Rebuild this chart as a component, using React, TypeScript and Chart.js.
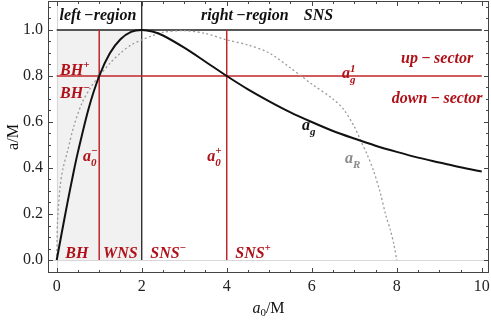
import React, { useEffect, useRef } from "react";
import { Chart, registerables } from "chart.js";
Chart.register(...registerables);

// a_g curve
const agX = [0, 0.1, 0.25, 0.4, 0.5, 0.75, 1, 1.25, 1.5, 1.75, 2, 2.25, 2.5, 3, 3.5, 4, 4.5, 5, 5.5, 6, 6.5, 7, 7.5, 8, 8.5, 9, 9.5, 10];
const agY = [0, 0.1, 0.246, 0.385, 0.47, 0.658, 0.8, 0.899, 0.96, 0.992, 1.0, 0.993, 0.976, 0.923, 0.862, 0.8, 0.742, 0.69, 0.642, 0.6, 0.561, 0.528, 0.497, 0.47, 0.445, 0.424, 0.403, 0.385];
// a_R curve
const aRX = [0, 0.02, 0.08, 0.15, 0.25, 0.4, 0.6, 0.8, 1.0, 1.25, 1.5, 1.75, 2.0, 2.25, 2.5, 3.0, 3.5, 4.0, 4.5, 5.0, 5.5, 5.75, 6.0, 6.5, 6.75, 7.0, 7.15, 7.3, 7.45, 7.6, 7.75, 7.85, 7.93, 8.0];
const aRY = [0, 0.17, 0.32, 0.4, 0.47, 0.58, 0.685, 0.75, 0.8, 0.855, 0.9, 0.935, 0.957, 0.975, 0.99, 0.997, 0.985, 0.957, 0.935, 0.9, 0.835, 0.8, 0.765, 0.7, 0.655, 0.58, 0.52, 0.46, 0.39, 0.3, 0.19, 0.13, 0.07, 0];

const xTickValues = [0, 2, 4, 6, 8, 10];
const yTickValues = [0, 0.2, 0.4, 0.6, 0.8, 1.0];
const xMinorStep = 0.5;
const yMinorStep = 0.05;

const X_MIN = -0.205, X_MAX = 10.17, Y_MIN = -0.0565, Y_MAX = 1.126;

// reference lines
const leftRegionEdge = 2;
const a0Minus = 1;
const a0Plus = 4;
const agOne = 0.8;
const aMax = 1.0;

const RED = "#c1272d";
const RED_TEXT = "#b01018";
const FONT = '"Liberation Serif", "Times New Roman", serif';

type Seg = { t: string; sup?: string; sub?: string };
type Label = { segs: Seg[]; x: number; y: number; align: "left" | "center" | "right"; color: string };

const labels: Label[] = [
  { segs: [{ t: "left\u2009−region" }], x: 0.97, y: 1.043, align: "center", color: "#111" },
  { segs: [{ t: "right\u2009−region\u2009   SNS" }], x: 4.95, y: 1.043, align: "center", color: "#111" },
  { segs: [{ t: "BH", sup: "+" }], x: 0.08, y: 0.806, align: "left", color: RED_TEXT },
  { segs: [{ t: "BH", sup: "−" }], x: 0.08, y: 0.704, align: "left", color: RED_TEXT },
  { segs: [{ t: "a", sup: "−", sub: "0" }], x: 0.62, y: 0.43, align: "left", color: RED_TEXT },
  { segs: [{ t: "a", sup: "+", sub: "0" }], x: 3.54, y: 0.43, align: "left", color: RED_TEXT },
  { segs: [{ t: "BH" }], x: 0.2, y: 0.009, align: "left", color: RED_TEXT },
  { segs: [{ t: "WNS" }], x: 1.09, y: 0.009, align: "left", color: RED_TEXT },
  { segs: [{ t: "SNS", sup: "−" }], x: 2.2, y: 0.009, align: "left", color: RED_TEXT },
  { segs: [{ t: "SNS", sup: "+" }], x: 4.2, y: 0.009, align: "left", color: RED_TEXT },
  { segs: [{ t: "a", sup: "1", sub: "g" }], x: 6.71, y: 0.79, align: "left", color: RED_TEXT },
  { segs: [{ t: "up\u2009−\u2009sector" }], x: 8.95, y: 0.857, align: "center", color: RED_TEXT },
  { segs: [{ t: "down\u2009−\u2009sector" }], x: 8.95, y: 0.683, align: "center", color: RED_TEXT },
  { segs: [{ t: "a", sub: "g" }], x: 5.77, y: 0.565, align: "left", color: "#111" },
  { segs: [{ t: "a", sub: "R" }], x: 6.78, y: 0.42, align: "left", color: "#8a8a8a" },
];

const LABEL_SIZE = 16;

function drawRich(ctx: CanvasRenderingContext2D, segs: Seg[], x: number, y: number, align: string, color: string, size: number) {
  const main = `bold italic ${size}px ${FONT}`;
  const small = `bold italic ${Math.round(size * 0.68)}px ${FONT}`;
  const widths = segs.map((s) => {
    ctx.font = main;
    const w = ctx.measureText(s.t).width;
    ctx.font = small;
    const sw = Math.max(s.sup ? ctx.measureText(s.sup).width : 0, s.sub ? ctx.measureText(s.sub).width : 0);
    return { w, sw };
  });
  const total = widths.reduce((a, b) => a + b.w + b.sw, 0);
  let cx = align === "left" ? x : align === "right" ? x - total : x - total / 2;
  ctx.fillStyle = color;
  ctx.textBaseline = "alphabetic";
  ctx.textAlign = "left";
  segs.forEach((s, i) => {
    ctx.font = main;
    ctx.fillText(s.t, cx, y);
    cx += widths[i].w;
    ctx.font = small;
    if (s.sup) ctx.fillText(s.sup, cx, y - size * 0.42);
    if (s.sub) ctx.fillText(s.sub, cx, y + size * 0.28);
    cx += widths[i].sw;
  });
}

const decorPlugin = {
  id: "decor",
  beforeDatasetsDraw(chart: any) {
    const { ctx, chartArea: ca, scales } = chart;
    const xs = scales.x, ys = scales.y;
    const px = (v: number) => xs.getPixelForValue(v);
    const py = (v: number) => ys.getPixelForValue(v);
    ctx.save();
    // shaded left region
    ctx.fillStyle = "#f1f1f1";
    ctx.fillRect(px(0), py(aMax), px(leftRegionEdge) - px(0), py(0) - py(aMax));
    // axis lines at x=0 and y=0
    ctx.strokeStyle = "#d8d8d8";
    ctx.lineWidth = 1;
    ctx.beginPath();
    ctx.moveTo(ca.left, Math.round(py(0)) + 0.5);
    ctx.lineTo(ca.right, Math.round(py(0)) + 0.5);
    ctx.moveTo(Math.round(px(0)) + 0.5, ca.top);
    ctx.lineTo(Math.round(px(0)) + 0.5, ca.bottom);
    ctx.stroke();
    // black reference lines
    ctx.strokeStyle = "#222";
    ctx.lineWidth = 1.3;
    ctx.beginPath();
    ctx.moveTo(px(0), py(aMax));
    ctx.lineTo(px(10), py(aMax));
    ctx.moveTo(px(leftRegionEdge), py(0));
    ctx.lineTo(px(leftRegionEdge), ca.top);
    ctx.stroke();
    // red reference lines
    ctx.strokeStyle = RED;
    ctx.lineWidth = 1.5;
    ctx.beginPath();
    ctx.moveTo(px(0), py(agOne));
    ctx.lineTo(px(10), py(agOne));
    ctx.moveTo(px(a0Minus), py(0));
    ctx.lineTo(px(a0Minus), py(aMax));
    ctx.moveTo(px(a0Plus), py(0));
    ctx.lineTo(px(a0Plus), py(aMax));
    ctx.stroke();
    ctx.restore();
  },
  afterDatasetsDraw(chart: any) {
    const { ctx, chartArea: ca, scales } = chart;
    const xs = scales.x, ys = scales.y;
    const px = (v: number) => xs.getPixelForValue(v);
    const py = (v: number) => ys.getPixelForValue(v);
    ctx.save();
    // frame
    ctx.strokeStyle = "#444";
    ctx.lineWidth = 1;
    ctx.strokeRect(Math.round(ca.left) + 0.5, Math.round(ca.top) + 0.5, Math.round(ca.right - ca.left) - 1, Math.round(ca.bottom - ca.top) - 1);
    // ticks on all four sides
    ctx.beginPath();
    for (let v = 0; v <= 10.001; v += xMinorStep) {
      const major = xTickValues.some((t) => Math.abs(t - v) < 1e-6);
      const len = major ? 5 : 3;
      const x = Math.round(px(v)) + 0.5;
      ctx.moveTo(x, ca.bottom);
      ctx.lineTo(x, ca.bottom - len);
      ctx.moveTo(x, ca.top);
      ctx.lineTo(x, ca.top + len);
    }
    for (let v = 0; v <= Y_MAX; v += yMinorStep) {
      const major = yTickValues.some((t) => Math.abs(t - v) < 1e-6);
      const len = major ? 5 : 3;
      const y = Math.round(py(v)) + 0.5;
      ctx.moveTo(ca.left, y);
      ctx.lineTo(ca.left + len, y);
      ctx.moveTo(ca.right, y);
      ctx.lineTo(ca.right - len, y);
    }
    ctx.stroke();
    // annotations
    labels.forEach((l) => drawRich(ctx, l.segs, px(l.x), py(l.y), l.align, l.color, LABEL_SIZE));
    // axis titles
    ctx.fillStyle = "#111";
    ctx.textBaseline = "alphabetic";
    ctx.save();
    ctx.translate(18, (ca.top + ca.bottom) / 2);
    ctx.rotate(-Math.PI / 2);
    ctx.font = `16px ${FONT}`;
    ctx.textAlign = "center";
    ctx.fillText("a/M", 0, 0);
    ctx.restore();
    ctx.font = `italic 16px ${FONT}`;
    const wa = ctx.measureText("a").width;
    ctx.font = `11px ${FONT}`;
    const w0 = ctx.measureText("0").width;
    ctx.font = `16px ${FONT}`;
    const wm = ctx.measureText("/M").width;
    const total = wa + w0 + wm;
    let cx = (ca.left + ca.right) / 2 - total / 2;
    const by = 313;
    ctx.textAlign = "left";
    ctx.font = `italic 16px ${FONT}`;
    ctx.fillText("a", cx, by);
    cx += wa;
    ctx.font = `11px ${FONT}`;
    ctx.fillText("0", cx, by + 3);
    cx += w0;
    ctx.font = `16px ${FONT}`;
    ctx.fillText("/M", cx, by);
    ctx.restore();
  },
};

export default function App() {
  const ref = useRef<HTMLCanvasElement>(null);
  useEffect(() => {
    document.body.style.margin = "0";
    const canvas = ref.current!;
    const chart = new Chart(canvas, {
      type: "scatter",
      data: {
        datasets: [
          {
            label: "a_g",
            data: agX.map((x, i) => ({ x, y: agY[i] })),
            showLine: true,
            borderColor: "#111",
            borderWidth: 2,
            pointRadius: 0,
            tension: 0.3,
          },
          {
            label: "a_R",
            data: aRX.map((x, i) => ({ x, y: aRY[i] })),
            showLine: true,
            borderColor: "#9a9a9a",
            borderWidth: 1.3,
            borderDash: [2, 2.5],
            pointRadius: 0,
            tension: 0.3,
          },
        ],
      },
      options: {
        animation: false,
        responsive: false,
        devicePixelRatio: 1,
        layout: { padding: { top: 1, right: 2, left: 0, bottom: 0 } },
        plugins: { legend: { display: false }, tooltip: { enabled: false } },
        scales: {
          x: {
            type: "linear",
            min: X_MIN,
            max: X_MAX,
            grid: { display: false, drawTicks: false },
            border: { display: false },
            afterBuildTicks: (s: any) => {
              s.ticks = xTickValues.map((v) => ({ value: v }));
            },
            afterFit: (s: any) => {
              s.height = 47;
              s.paddingLeft = 0;
              s.paddingRight = 0;
              s.paddingTop = 0;
              s.paddingBottom = 0;
            },
            ticks: {
              padding: 4,
              color: "#222",
              font: { family: FONT, size: 16 },
              maxRotation: 0,
              autoSkip: false,
              callback: (v: any) => String(v),
            },
          },
          y: {
            type: "linear",
            min: Y_MIN,
            max: Y_MAX,
            grid: { display: false, drawTicks: false },
            border: { display: false },
            afterBuildTicks: (s: any) => {
              s.ticks = yTickValues.map((v) => ({ value: v }));
            },
            afterFit: (s: any) => {
              s.width = 48;
              s.paddingLeft = 0;
              s.paddingRight = 0;
              s.paddingTop = 0;
              s.paddingBottom = 0;
            },
            ticks: {
              padding: 5,
              color: "#222",
              font: { family: FONT, size: 16 },
              autoSkip: false,
              callback: (v: any) => Number(v).toFixed(1),
            },
          },
        },
      },
      plugins: [decorPlugin],
    } as any);
    return () => chart.destroy();
  }, []);
  return (
    <div style={{ width: 491, height: 320 }}>
      <canvas ref={ref} width={491} height={320} />
    </div>
  );
}
